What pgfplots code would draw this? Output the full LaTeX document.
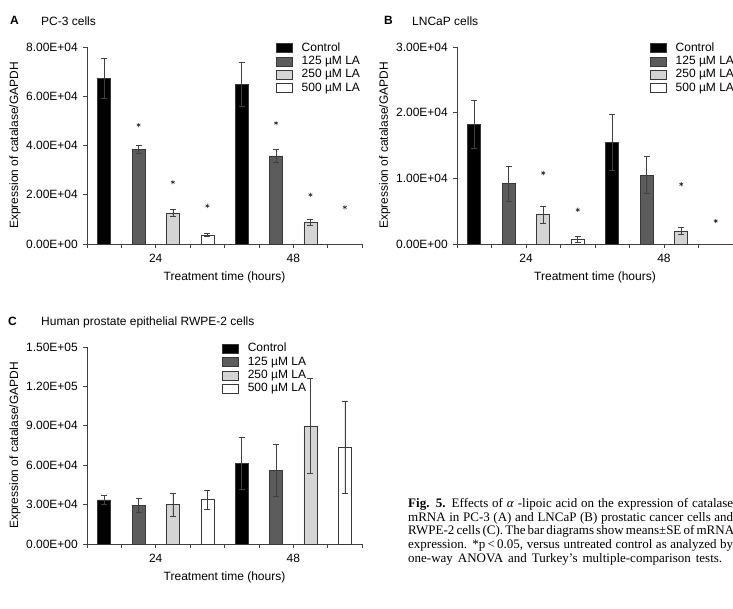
\documentclass[border=0pt]{standalone}
\usepackage{fontspec}
\setmainfont{Liberation Serif}
\newfontfamily\arial{Liberation Sans}
\usepackage{pgfplots}
\pgfplotsset{compat=1.18}

\definecolor{cA}{gray}{0}
\definecolor{cB}{gray}{0.36}
\definecolor{cC}{gray}{0.83}
\definecolor{cD}{gray}{1}
\definecolor{edge}{gray}{0.22}

\newcommand{\ssz}{\fontsize{12}{13}\arial}

\pgfplotsset{
  panel/.style={
    scale only axis, width=275pt, height=197pt,
    xmin=0, xmax=8, ymin=0, clip=false,
    scaled y ticks=false,
    axis lines=left, axis line style={-, draw=black!75, line width=0.7pt},
    tick align=outside, major tick length=4pt,
    tick style={black!75, line width=0.7pt},
    xtick={0,1,2,3,4,5,6,7,8}, xticklabels={,,24,,,,48,,},
    tick label style={inner sep=0pt, font=\ssz},
    yticklabel style={anchor=east, xshift=-5pt},
    xticklabel style={anchor=north, yshift=-5.7pt},
    label style={font=\ssz},
    xlabel={Treatment time (hours)},
    ylabel={Expression of catalase/GAPDH},
    xlabel style={at={(axis description cs:0.5,-0.1675)}, anchor=center, inner sep=0pt},
    ylabel style={at={(axis description cs:-0.262,0.5)}, anchor=center, inner sep=0pt},
    legend cell align=left,
    legend style={draw=none, fill=none, anchor=north west, inner sep=0pt,
      column sep=9pt, row sep=2.3pt, font=\ssz,
      nodes={inner sep=0pt, text height=8.6pt, text depth=2.4pt}},
  },
  mybar/.style={ybar, bar width=13pt, bar shift=0pt, draw=edge, line width=0.6pt, fill=#1,
    legend image code/.code={\draw[##1] (0pt,-4.5pt) rectangle (16pt,4.5pt);},
    error bars/.cd, y dir=both, y explicit,
    error bar style={black!75, line width=0.6pt},
    error mark options={rotate=90, mark size=3pt, black!75, line width=0.6pt}},
  star/.style={only marks, mark=asterisk, mark size=2.2pt, black!85, line width=0.55pt, forget plot},
}

\begin{document}
\begin{tikzpicture}

% ---------------- Panel A ----------------
\begin{axis}[panel, at={(87pt,364pt)}, anchor=south west,
  ymax=80000, ytick={0,20000,40000,60000,80000},
  yticklabels={0.00E+00,2.00E+04,4.00E+04,6.00E+04,8.00E+04},
  legend style={at={(axis description cs:0.687,1.023)}}]
\addplot[mybar=cA] coordinates {(0.5,67300) +- (0,8200) (4.5,64800) +- (0,8800)};
\addlegendentry{Control}
\addplot[mybar=cB] coordinates {(1.5,38400) +- (0,1700) (5.5,35800) +- (0,2500)};
\addlegendentry{125 µM LA}
\addplot[mybar=cC] coordinates {(2.5,12600) +- (0,1400) (6.5,8800) +- (0,1200)};
\addlegendentry{250 µM LA}
\addplot[mybar=cD] coordinates {(3.5,3700) +- (0,600)};
\addlegendentry{500 µM LA}
\addplot[star] coordinates {(1.5,48300) (2.5,25100) (3.5,15500) (5.5,49100) (6.5,20000) (7.5,14900)};
\end{axis}

% ---------------- Panel B ----------------
\begin{axis}[panel, at={(457pt,364pt)}, anchor=south west, width=276pt,
  ymax=30000, ytick={0,10000,20000,30000},
  yticklabels={0.00E+00,1.00E+04,2.00E+04,3.00E+04},
  legend style={at={(axis description cs:0.699,1.023)}}]
\addplot[mybar=cA] coordinates {(0.5,18200) +- (0,3700) (4.5,15500) +- (0,4300)};
\addlegendentry{Control}
\addplot[mybar=cB] coordinates {(1.5,9200) +- (0,2700) (5.5,10500) +- (0,2800)};
\addlegendentry{125 µM LA}
\addplot[mybar=cC] coordinates {(2.5,4500) +- (0,1300) (6.5,2000) +- (0,500)};
\addlegendentry{250 µM LA}
\addplot[mybar=cD] coordinates {(3.5,700) +- (0,400)};
\addlegendentry{500 µM LA}
\addplot[star] coordinates {(2.5,10800) (3.5,5200) (6.5,9100) (7.5,3500)};
\end{axis}

% ---------------- Panel C ----------------
\begin{axis}[panel, at={(87pt,64pt)}, anchor=south west,
  ymax=150000, ytick={0,30000,60000,90000,120000,150000},
  yticklabels={0.00E+00,3.00E+04,6.00E+04,9.00E+04,1.20E+05,1.50E+05},
  legend style={at={(axis description cs:0.491,1.02)}}]
\addplot[mybar=cA] coordinates {(0.5,33600) +- (0,3600) (4.5,61600) +- (0,19800)};
\addlegendentry{Control}
\addplot[mybar=cB] coordinates {(1.5,29500) +- (0,5000) (5.5,56200) +- (0,19500)};
\addlegendentry{125 µM LA}
\addplot[mybar=cC] coordinates {(2.5,30000) +- (0,8700) (6.5,90000) +- (0,36000)};
\addlegendentry{250 µM LA}
\addplot[mybar=cD] coordinates {(3.5,33800) +- (0,7000) (7.5,73800) +- (0,35000)};
\addlegendentry{500 µM LA}
\end{axis}

% ---------------- Panel titles ----------------
\node[anchor=base west, inner sep=0pt, font=\ssz\bfseries] at (10pt,583pt) {A};
\node[anchor=base west, inner sep=0pt, font=\ssz] at (41pt,582pt) {PC-3 cells};
\node[anchor=base west, inner sep=0pt, font=\ssz\bfseries] at (384pt,583pt) {B};
\node[anchor=base west, inner sep=0pt, font=\ssz] at (412pt,582pt) {LNCaP cells};
\node[anchor=base west, inner sep=0pt, font=\ssz\bfseries] at (8pt,282pt) {C};
\node[anchor=base west, inner sep=0pt, font=\ssz] at (41pt,282pt) {Human prostate epithelial RWPE-2 cells};

% ---------------- Caption ----------------
\node[anchor=base west, inner sep=0pt] at (408pt,100.3pt) {\parbox[t]{325pt}{\fontsize{13}{13.6}\selectfont
\makebox[325pt][s]{\textbf{Fig. 5.} Effects of \textit{α} -lipoic acid on the expression of catalase}\\
\makebox[325pt][s]{mRNA in PC-3 (A) and LNCaP (B) prostatic cancer cells and}\\
\makebox[325pt][s]{RWPE-2 cells (C). The bar diagrams show means±SE of mRNA}\\
\makebox[325pt][s]{expression. *p\,<\,0.05, versus untreated control as analyzed by}\\
\makebox[314pt][s]{one-way ANOVA and Turkey’s multiple-comparison tests.}}};

\pgfresetboundingbox
\useasboundingbox (0,0) rectangle (733pt,608pt);
\end{tikzpicture}
\end{document}
